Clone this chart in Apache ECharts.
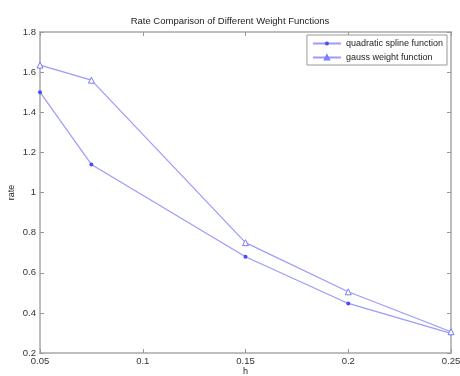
<!DOCTYPE html>
<html>
<head>
<meta charset="utf-8">
<script src="https://cdn.jsdelivr.net/npm/echarts@6/dist/echarts.min.js"></script>
<style>
  html, body { margin: 0; padding: 0; background: #fff; }
  #chart { width: 460px; height: 376px; }
</style>
</head>
<body>
<div id="chart"></div>
<script>
// h values on x axis
const hValues = [0.05, 0.075, 0.15, 0.2, 0.25]
const quadraticRate = [1.5, 1.14, 0.68, 0.447, 0.298]
const gaussRate = [1.635, 1.56, 0.75, 0.505, 0.306]
const seriesNames = ['quadratic spline function', 'gauss weight function']

const font = 'Liberation Sans, Arial, sans-serif'
const lineColor = '#9a9aff'
const boxColor = '#bdbdbd'

function pairs(xs, ys) {
  return xs.map((x, i) => [x, ys[i]])
}

// shared axis bits (matlab style box, ticks pointing inward)
const tickIn = { show: true, inside: true, length: 4, lineStyle: { color: '#999' } }
const boxLine = { show: true, lineStyle: { color: boxColor, width: 2 } }

const options = {
  animation: false,
  title: {
    text: 'Rate Comparison of Different Weight Functions',
    left: 'center',
    top: 11,
    textStyle: { fontFamily: font, fontSize: 9.5, fontWeight: 'normal', color: '#222' }
  },
  legend: {
    orient: 'vertical',
    right: 13,
    top: 35,
    itemWidth: 28,
    itemHeight: 5,
    itemGap: 5,
    padding: [4, 4, 3, 5],
    borderColor: '#999',
    borderWidth: 1,
    backgroundColor: '#fff',
    textStyle: { fontFamily: font, fontSize: 9, color: '#222' },
    data: seriesNames
  },
  grid: {
    left: 40,
    right: 9,
    top: 32,
    bottom: 23,
    outerBoundsMode: 'none',
    containLabel: false,
    show: true,
    borderColor: boxColor,
    borderWidth: 2
  },
  xAxis: [
    {
      type: 'value',
      min: 0.05,
      max: 0.25,
      interval: 0.05,
      name: 'h',
      nameLocation: 'middle',
      nameGap: 14,
      nameMoveOverlap: false,
      nameTextStyle: { fontFamily: font, fontSize: 9, color: '#222' },
      axisLine: boxLine,
      axisTick: tickIn,
      splitLine: { show: false },
      axisLabel: {
        fontFamily: font, fontSize: 9.5, color: '#333', margin: 3,
        formatter: v => String(+v.toFixed(3))
      }
    },
    {
      type: 'value',
      position: 'top',
      min: 0.05,
      max: 0.25,
      interval: 0.05,
      axisLine: boxLine,
      axisTick: tickIn,
      axisLabel: { show: false },
      splitLine: { show: false }
    }
  ],
  yAxis: [
    {
      type: 'value',
      min: 0.2,
      max: 1.8,
      interval: 0.2,
      name: 'rate',
      nameLocation: 'middle',
      nameGap: 24,
      nameMoveOverlap: false,
      nameTextStyle: { fontFamily: font, fontSize: 9, color: '#222' },
      axisLine: boxLine,
      axisTick: tickIn,
      splitLine: { show: false },
      axisLabel: {
        fontFamily: font, fontSize: 9.5, color: '#333', margin: 4,
        formatter: v => String(+v.toFixed(2))
      }
    },
    {
      type: 'value',
      position: 'right',
      min: 0.2,
      max: 1.8,
      interval: 0.2,
      axisLine: boxLine,
      axisTick: tickIn,
      axisLabel: { show: false },
      splitLine: { show: false }
    }
  ],
  series: [
    {
      name: seriesNames[0],
      type: 'line',
      symbol: 'circle',
      symbolSize: 4,
      itemStyle: { color: '#4a4aff' },
      lineStyle: { color: lineColor, width: 1.2 },
      data: pairs(hValues, quadraticRate)
    },
    {
      name: seriesNames[1],
      type: 'line',
      symbol: 'triangle',
      symbolSize: 6,
      itemStyle: { color: '#fff', borderColor: '#7a7aff', borderWidth: 1 },
      lineStyle: { color: lineColor, width: 1.2 },
      data: pairs(hValues, gaussRate)
    }
  ]
}

const chart = echarts.init(document.getElementById('chart'))
chart.setOption(options)
</script>
</body>
</html>
